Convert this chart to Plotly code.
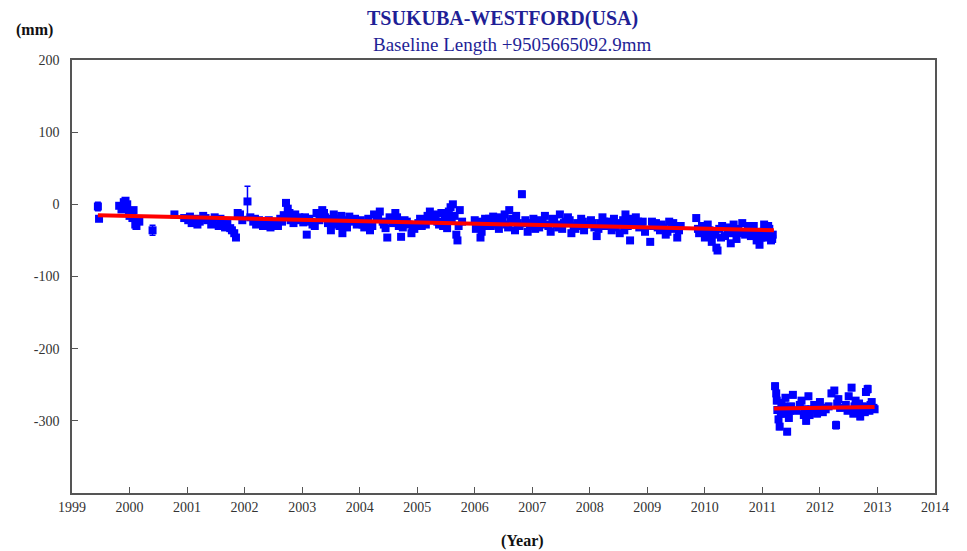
import plotly.graph_objects as go

# ---------------- data ----------------
years_a = [1999.45, 1999.47,
           1999.82, 1999.86, 1999.90, 1999.93, 1999.96, 1999.99, 2000.02, 2000.05, 2000.07, 2000.10, 2000.13, 2000.17,
           2000.40, 2000.78,
           2000.95, 2001.02, 2001.08, 2001.15, 2001.22, 2001.28, 2001.35, 2001.42, 2001.48, 2001.55, 2001.62, 2001.70,
           2001.75, 2001.82, 2001.85, 2001.88, 2001.92, 2001.96,
           2002.05, 2002.10, 2002.15, 2002.20, 2002.25, 2002.32, 2002.38, 2002.45, 2002.50, 2002.55, 2002.62, 2002.68,
           2002.72, 2002.75, 2002.80, 2002.88, 2002.95,
           2003.02, 2003.08, 2003.12, 2003.18, 2003.25, 2003.30, 2003.35, 2003.40, 2003.45, 2003.50, 2003.55, 2003.60,
           2003.65, 2003.70, 2003.75, 2003.82, 2003.88, 2003.95,
           2004.02, 2004.08, 2004.12, 2004.18, 2004.25, 2004.30, 2004.35, 2004.40, 2004.45, 2004.48, 2004.52, 2004.58,
           2004.62, 2004.68, 2004.72, 2004.78, 2004.85, 2004.90, 2004.95,
           2005.02, 2005.08, 2005.12, 2005.18, 2005.22, 2005.28, 2005.32, 2005.38, 2005.42, 2005.48, 2005.52, 2005.58,
           2005.62, 2005.65, 2005.68, 2005.70, 2005.74, 2005.78,
           2006.00, 2006.05, 2006.10, 2006.12, 2006.18, 2006.22, 2006.28, 2006.32, 2006.38, 2006.42, 2006.48, 2006.52,
           2006.55, 2006.60, 2006.65, 2006.70, 2006.75, 2006.82, 2006.88, 2006.92, 2006.96,
           2007.02, 2007.08, 2007.12, 2007.18, 2007.22, 2007.28, 2007.32, 2007.38, 2007.42, 2007.48, 2007.52, 2007.58,
           2007.62, 2007.68, 2007.72, 2007.78, 2007.85, 2007.90, 2007.95,
           2008.02, 2008.08, 2008.12, 2008.18, 2008.22, 2008.28, 2008.32, 2008.38, 2008.42, 2008.48, 2008.52, 2008.58,
           2008.62, 2008.66, 2008.70, 2008.74, 2008.80, 2008.86, 2008.92, 2008.96,
           2009.05, 2009.10, 2009.15, 2009.22, 2009.28, 2009.32, 2009.38, 2009.42, 2009.48, 2009.52, 2009.58,
           2009.85, 2009.90, 2009.95,
           2010.00, 2010.05, 2010.08, 2010.12, 2010.15, 2010.20, 2010.22, 2010.25, 2010.30, 2010.35, 2010.40, 2010.45,
           2010.50, 2010.55, 2010.60, 2010.65, 2010.75, 2010.80, 2010.85, 2010.90, 2010.95, 2011.00, 2011.03, 2011.08,
           2011.12, 2011.15, 2011.18]
values_a = [-3, -20,
            -2, -7, 3, 5, 0, -10, -13, -19, -8, -28, -22, -24,
            -36, -14,
            -19, -22, -26, -20, -24, -16, -22, -28, -18, -30, -25, -27,
            -33, -40, -46, -12, -14, -22,
            4, -18, -24, -28, -22, -30, -26, -32, -28, -24, -20, -15,
            2, -6, -22, -14, -18,
            -25, -42, -20, -28, -12, -22, -8, -18, -26, -36, -14, -20,
            -30, -40, -22, -17, -24, -28,
            -22, -32, -26, -36, -14, -20, -10, -24, -33, -46, -18, -26,
            -12, -30, -45, -22, -28, -40, -34,
            -26, -30, -24, -16, -10, -22, -14, -28, -12, -20, -33, -4,
            0, -16, -42, -50, -8, -24,
            -22, -28, -46, -38, -20, -26, -30, -17, -24, -34, -22, -14,
            -28, -8, -20, -36, -26, 14, -22, -38, -30,
            -20, -26, -32, -24, -16, -30, -38, -22, -28, -14, -34, -24,
            -18, -40, -30, -26, -20, -36, -28,
            -22, -32, -44, -26, -18, -30, -24, -36, -20, -28, -40, -22,
            -14, -30, -50, -26, -18, -32, -24, -38,
            -52, -30, -26, -36, -32, -42, -24, -28, -34, -46, -30,
            -19, -40, -30,
            -46, -28, -36, -52, -42, -60, -64, -34, -30, -44, -38, -54,
            -28, -48, -40, -26, -36, -44, -30, -50, -56, -38, -28, -46,
            -34, -50, -42]
errors_a = [6, 3,
            3, 3, 3, 3, 3, 3, 3, 3, 3, 3, 3, 3,
            7, 3,
            3, 3, 3, 3, 3, 3, 3, 3, 3, 3, 3, 3,
            3, 3, 3, 3, 3, 3,
            21, 3, 3, 3, 3, 3, 3, 3, 3, 3, 3, 3,
            3, 3, 3, 3, 3,
            3, 3, 3, 3, 3, 3, 3, 3, 3, 3, 3, 3,
            3, 3, 3, 3, 3, 3,
            3, 3, 3, 3, 3, 3, 3, 3, 3, 3, 3, 3,
            3, 3, 3, 3, 3, 3, 3,
            3, 3, 3, 3, 3, 3, 3, 3, 3, 3, 3, 3,
            3, 3, 3, 3, 3, 3,
            3, 3, 3, 3, 3, 3, 3, 3, 3, 3, 3, 3,
            3, 3, 3, 3, 3, 4, 3, 3, 3,
            3, 3, 3, 3, 3, 3, 3, 3, 3, 3, 3, 3,
            3, 3, 3, 3, 3, 3, 3,
            3, 3, 3, 3, 3, 3, 3, 3, 3, 3, 3, 3,
            3, 3, 3, 3, 3, 3, 3, 3,
            3, 3, 3, 3, 3, 3, 3, 3, 3, 3, 3,
            3, 3, 3,
            3, 3, 3, 3, 3, 3, 3, 3, 3, 3, 3, 3,
            3, 3, 3, 3, 3, 3, 3, 3, 3, 3, 3, 3,
            3, 3, 3]

# further sessions of the same baseline (denser band)
years_a2 = [1999.88, 2000.00, 2000.12,
            2001.05, 2001.18, 2001.32, 2001.45, 2001.58, 2001.66, 2001.78,
            2002.18, 2002.28, 2002.42, 2002.58, 2002.65, 2002.78, 2002.85, 2002.92,
            2003.05, 2003.15, 2003.22, 2003.38, 2003.48, 2003.58, 2003.68, 2003.78, 2003.92,
            2004.05, 2004.15, 2004.22, 2004.32, 2004.42, 2004.55, 2004.65, 2004.75, 2004.82, 2004.92,
            2005.05, 2005.15, 2005.25, 2005.35, 2005.45, 2005.55, 2005.60, 2005.72,
            2006.02, 2006.08, 2006.15, 2006.25, 2006.35, 2006.45, 2006.58, 2006.62, 2006.72, 2006.78, 2006.90,
            2007.05, 2007.15, 2007.25, 2007.35, 2007.45, 2007.55, 2007.65, 2007.75, 2007.82, 2007.88,
            2008.05, 2008.15, 2008.25, 2008.35, 2008.45, 2008.55, 2008.60, 2008.68, 2008.78, 2008.84, 2008.90,
            2009.08, 2009.18, 2009.25, 2009.35, 2009.45, 2009.55, 2009.88, 2009.98,
            2010.02, 2010.10, 2010.18, 2010.28, 2010.38, 2010.48, 2010.58, 2010.70, 2010.78, 2010.88, 2010.98,
            2011.05, 2011.10, 2011.17]
values_a2 = [-4, -16, -30,
             -17, -28, -19, -24, -20, -32, -36,
             -20, -26, -22, -30, -24, -12, -26, -22,
             -18, -24, -30, -12, -20, -28, -16, -32, -20,
             -28, -20, -30, -16, -28, -22, -18, -32, -24, -30,
             -20, -28, -18, -24, -30, -10, -20, -30,
             -34, -24, -30, -20, -28, -18, -32, -24, -16, -30, -26,
             -34, -22, -28, -20, -32, -26, -22, -34, -30, -24,
             -26, -34, -24, -28, -32, -26, -36, -20, -28, -24, -30,
             -24, -32, -28, -38, -26, -36, -34, -38,
             -36, -44, -38, -46, -32, -40, -34, -42, -30, -40, -46,
             -40, -30, -48]
errors_a2 = [3, 3, 3,
             3, 3, 3, 3, 3, 3, 3,
             3, 3, 3, 3, 3, 3, 3, 3,
             3, 3, 3, 3, 3, 3, 3, 3, 3,
             3, 3, 3, 3, 3, 3, 3, 3, 3, 3,
             3, 3, 3, 3, 3, 3, 3, 3,
             3, 3, 3, 3, 3, 3, 3, 3, 3, 3, 3,
             3, 3, 3, 3, 3, 3, 3, 3, 3, 3,
             3, 3, 3, 3, 3, 3, 3, 3, 3, 3, 3,
             3, 3, 3, 3, 3, 3, 3, 3,
             3, 3, 3, 3, 3, 3, 3, 3, 3, 3, 3,
             3, 3, 3]

years_b = [2011.22, 2011.24, 2011.26, 2011.28, 2011.30, 2011.33, 2011.36, 2011.40, 2011.43, 2011.46, 2011.50,
           2011.53, 2011.60, 2011.68, 2011.72, 2011.76, 2011.80, 2011.85, 2011.90, 2011.95, 2012.00, 2012.05,
           2012.10, 2012.20, 2012.25, 2012.28, 2012.30, 2012.35, 2012.45, 2012.50, 2012.55, 2012.58, 2012.62,
           2012.66, 2012.70, 2012.75, 2012.80, 2012.83, 2012.86, 2012.90, 2012.93,
           2011.25, 2011.32, 2011.38, 2011.48, 2011.65, 2011.74, 2011.82, 2011.92, 2012.02, 2012.15, 2012.32,
           2012.48, 2012.60, 2012.68, 2012.78, 2012.88, 2012.95]
values_b = [-252, -262, -285, -298, -308, -275, -290, -268, -315, -296, -280,
            -264, -286, -272, -292, -300, -266, -284, -278, -290, -274, -288,
            -284, -262, -258, -306, -276, -282, -278, -266, -254, -290, -272,
            -284, -294, -280, -260, -256, -286, -274, -282,
            -272, -290, -280, -286, -278, -284, -292, -284, -282, -280, -270,
            -286, -280, -276, -288, -278, -284]
errors_b = [4, 4, 4, 4, 4, 4, 4, 4, 4, 4, 4,
            4, 4, 4, 4, 4, 4, 4, 4, 4, 4, 4,
            4, 4, 4, 5, 4, 4, 4, 4, 4, 4, 4,
            4, 4, 4, 4, 5, 4, 4, 4,
            4, 4, 4, 4, 4, 4, 4, 4, 4, 4, 4,
            4, 4, 4, 4, 4, 4]

trend1_x = [1999.45, 2011.20]
trend1_y = [-15, -36]
trend2_x = [2011.20, 2012.95]
trend2_y = [-283, -281]

x_ticks = list(range(1999, 2015))
y_ticks = [-300, -200, -100, 0, 100, 200]

title_text = "TSUKUBA-WESTFORD(USA)"
subtitle_text = "Baseline Length +9505665092.9mm"

# ---------------- figure ----------------
BLUE = "#0000ff"
NAVY = "#1f1f96"
SERIF = "Liberation Serif, Times New Roman, serif"

fig = go.Figure()
for xs, ys, es in [(years_a + years_a2, values_a + values_a2, errors_a + errors_a2),
                   (years_b, values_b, errors_b)]:
    fig.add_trace(go.Scatter(
        x=xs, y=ys, mode="markers",
        marker=dict(symbol="square", size=8, color=BLUE),
        error_y=dict(type="data", array=es, visible=True, color=BLUE, thickness=1.5, width=3),
        showlegend=False,
    ))
for tx, ty in [(trend1_x, trend1_y), (trend2_x, trend2_y)]:
    fig.add_trace(go.Scatter(
        x=tx, y=ty, mode="lines",
        line=dict(color="#ff0000", width=4),
        showlegend=False,
    ))

W, H = 967, 551
L, R, T, B = 72, 32, 60, 58
pw, ph = W - L - R, H - T - B


def px(x):
    return (x - L) / pw


def py(y):
    return (H - B - y) / ph


fig.update_layout(
    width=W, height=H,
    margin=dict(l=L, r=R, t=T, b=B),
    paper_bgcolor="white", plot_bgcolor="white",
    font=dict(family=SERIF, size=14, color="#333333"),
    xaxis=dict(range=[1999, 2014], tickvals=x_ticks, ticktext=[str(v) for v in x_ticks],
               showgrid=False, zeroline=False, showline=True, mirror=True,
               linecolor="#555555", linewidth=1.5, ticks="inside", ticklen=6,
               tickcolor="#555555", tickfont=dict(family=SERIF, size=14, color="#333333")),
    yaxis=dict(range=[-400, 200], tickvals=y_ticks, ticktext=[str(v) for v in y_ticks],
               showgrid=False, zeroline=False, showline=True, mirror=True,
               linecolor="#555555", linewidth=1.5, ticks="inside", ticklen=6,
               ticklabelstandoff=8,
               tickcolor="#555555", tickfont=dict(family=SERIF, size=14, color="#333333")),
    annotations=[
        dict(text="<b>" + title_text + "</b>", x=px(502), y=py(18), xref="paper", yref="paper",
             showarrow=False, xanchor="center", yanchor="middle",
             font=dict(family=SERIF, size=20, color=NAVY)),
        dict(text=subtitle_text, x=px(512), y=py(45), xref="paper", yref="paper",
             showarrow=False, xanchor="center", yanchor="middle",
             font=dict(family=SERIF, size=19, color=NAVY)),
        dict(text="<b>(mm)</b>", x=px(34), y=py(30), xref="paper", yref="paper",
             showarrow=False, xanchor="center", yanchor="middle",
             font=dict(family=SERIF, size=16, color="#111111")),
        dict(text="<b>(Year)</b>", x=px(522), y=py(541), xref="paper", yref="paper",
             showarrow=False, xanchor="center", yanchor="middle",
             font=dict(family=SERIF, size=16, color="#111111")),
    ],
)

fig.write_html("out.html", post_script="document.body.style.margin='0px';",
               config={"displayModeBar": False})
